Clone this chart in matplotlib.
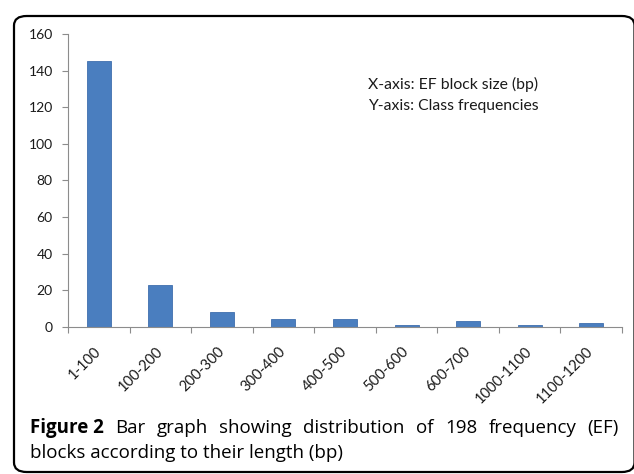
import matplotlib.pyplot as plt
from matplotlib.patches import FancyBboxPatch
import numpy as np

# block size classes (bp) and their counts
classes = ['1-100', '100-200', '200-300', '300-400', '400-500',
           '500-600', '600-700', '1000-1100', '1100-1200']
counts = [145, 23, 8, 4, 4, 1, 3, 1, 2]
yticks = [0, 20, 40, 60, 80, 100, 120, 140, 160]

caption_bold = 'Figure 2'
caption_line1 = 'Bar graph showing distribution of 198 frequency (EF)'
caption_line2 = 'blocks according to their length (bp)'

plt.rcParams['font.family'] = ['Lato', 'DejaVu Sans']

W, H = 634, 474
fig = plt.figure(figsize=(W / 100, H / 100), dpi=100)

# rounded frame around the whole figure
frame = FancyBboxPatch((14 / W, 2 / H), 620.5 / W, 456 / H,
                       boxstyle='round,pad=0,rounding_size=0.02',
                       transform=fig.transFigure, fill=False,
                       edgecolor='black', linewidth=1.6)
fig.patches.append(frame)

ax = fig.add_axes([68 / W, 1 - 326.7 / H, (622 - 68) / W, (326.7 - 34) / H])
x = np.arange(len(classes))
ax.bar(x, counts, width=0.39, color='#4a7ebf', edgecolor='#3f6fae', linewidth=0.6)

ax.set_xlim(-0.5, len(classes) - 0.5)
ax.set_ylim(0, 160)
ax.set_yticks(yticks)
ax.set_yticklabels([str(v) for v in yticks], fontsize=10, color='#1a1a1a')

ax.set_xticks(x)
ax.set_xticklabels(classes, rotation=45, ha='right', va='center',
                   rotation_mode='anchor', fontsize=10.5, color='#1a1a1a')
ax.tick_params(axis='x', length=0, pad=16)
# ticks on category boundaries
ax.set_xticks(np.arange(-0.5, len(classes), 1.0), minor=True)
ax.tick_params(axis='x', which='minor', length=4, color='#8c8c8c', width=0.8)
ax.tick_params(axis='y', length=4, color='#8c8c8c', width=0.8, pad=7)

for s in ['top', 'right']:
    ax.spines[s].set_visible(False)
for s in ['left', 'bottom']:
    ax.spines[s].set_color('#8c8c8c')
    ax.spines[s].set_linewidth(0.8)

fig.text(368 / W, 1 - 84 / H, 'X-axis: EF block size (bp)', fontsize=11.3,
         color='#1a1a1a', va='center', ha='left')
fig.text(368 / W, 1 - 106 / H, 'Y-axis: Class frequencies', fontsize=11.3,
         color='#1a1a1a', va='center', ha='left')

# caption, first line justified between x=30 and x=619
cap_font = ['Open Sans', 'DejaVu Sans']
cap_size = 13.5
renderer = fig.canvas.get_renderer()
t = fig.text(30 / W, 1 - 433 / H, caption_bold, fontsize=cap_size,
             fontweight='bold', family=cap_font, va='baseline', ha='left')
bold_w = t.get_window_extent(renderer).width
words = caption_line1.split()
texts = [fig.text(0, 1 - 433 / H, w, fontsize=cap_size, family=cap_font,
                  va='baseline', ha='left') for w in words]
widths = [tx.get_window_extent(renderer).width for tx in texts]
start, end = 30 + bold_w, 619
gap = (end - start - sum(widths)) / len(words)
pos = start + gap
for tx, w in zip(texts, widths):
    tx.set_x(pos / W)
    pos += w + gap
fig.text(30 / W, 1 - 458 / H, caption_line2, fontsize=cap_size,
         family=cap_font, va='baseline', ha='left')

fig.savefig('out.png', dpi=100)
